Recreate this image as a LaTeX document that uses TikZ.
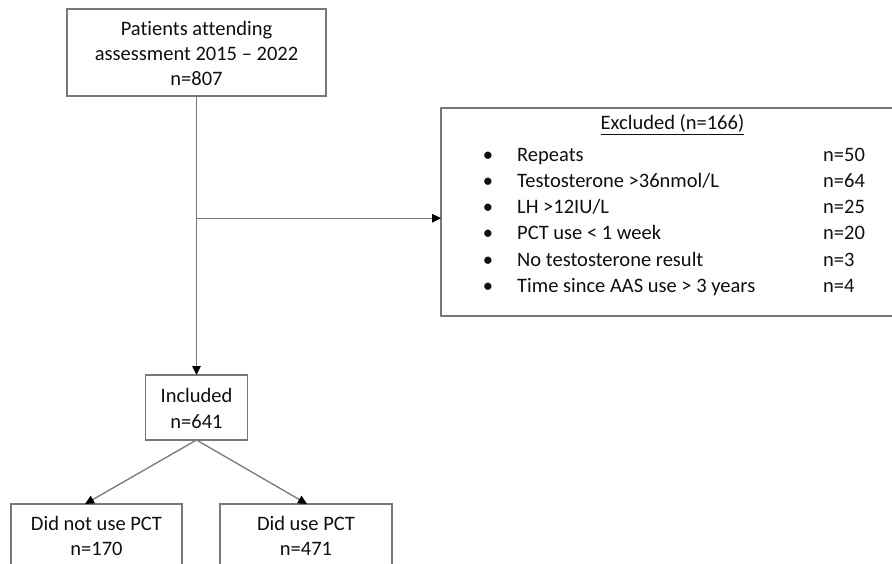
\documentclass[tikz,border=0pt]{standalone}
\usepackage{fontspec}
\setmainfont{Carlito}[Ligatures={NoCommon}]
\usetikzlibrary{arrows.meta,calc}
\definecolor{lc}{RGB}{120,120,120}
\definecolor{tc}{RGB}{15,15,15}
\begin{document}
\begin{tikzpicture}[x=1pt,y=-1pt,
  box/.style={draw=lc, line width=1.4pt, outer sep=0pt, inner sep=0pt},
  txt/.style={anchor=base, inner sep=0pt, text=tc, font=\fontsize{20.5}{25}\selectfont},
  ltxt/.style={txt, anchor=base west},
  conn/.style={draw=lc, line width=1.3pt},
  arr/.style={conn, -{Triangle[length=9pt,width=8.5pt,fill=black,color=black]}}]
\useasboundingbox (0,0) rectangle (892,564);
\clip (0,0) rectangle (892,564);
% boxes
\node[box, minimum width=259pt, minimum height=87pt] (top) at (196.5,52.5) {};
\node[box, minimum width=102pt, minimum height=65pt] (inc) at (196.5,407.5) {};
\node[box, minimum width=470pt, minimum height=208pt] (exc) at (676,212) {};
\node[box, minimum width=171pt, minimum height=100pt] (dn) at (96.5,554) {};
\node[box, minimum width=172pt, minimum height=100pt] (dy) at (306,554) {};
% texts
\node[txt] (t1) at (196.5,36) {Patients attending};
\node[txt] (t2) at (196.5,61) {assessment 2015 – 2022};
\node[txt] (t3) at (196.5,86) {n=807};
\node[txt] (i1) at (196.5,402.5) {Included};
\node[txt] (i2) at (196.5,428) {n=641};
\node[txt] (d1) at (96.5,530) {Did not use PCT};
\node[txt] (d2) at (96.5,555) {n=170};
\node[txt] (u1) at (306,530) {Did use PCT};
\node[txt] (u2) at (306,555) {n=471};
\node[txt] (eh) at (672.5,129.5) {\underline{Excluded (n=166)}};
\foreach \y/\a/\b [count=\k] in {161.5/Repeats/n=50, 187.5/Testosterone >36nmol\slash L/n=64, 213.5/LH >12IU\slash L/n=25, 239.5/PCT use < 1 week/n=20, 266/No testosterone result/n=3, 292/Time since AAS use > 3 years/n=4}{
  \node[txt] (b\k) at (488,\y) {•};
  \node[ltxt] (e\k) at (517,\y) {\a};
  \node[ltxt] (n\k) at (823,\y) {\b};
}
% connectors
\coordinate (br) at ($(top.south)!0.438!(inc.north)$);
\draw[arr] (top.south) -- (inc.north);
\draw[arr] (br) -- (br -| exc.west);
\draw[arr] (inc.south) -- ($(dn.north west)!0.433!(dn.north east)$);
\draw[arr] (inc.south) -- ($(dy.north west)!0.506!(dy.north east)$);
\end{tikzpicture}
\end{document}
